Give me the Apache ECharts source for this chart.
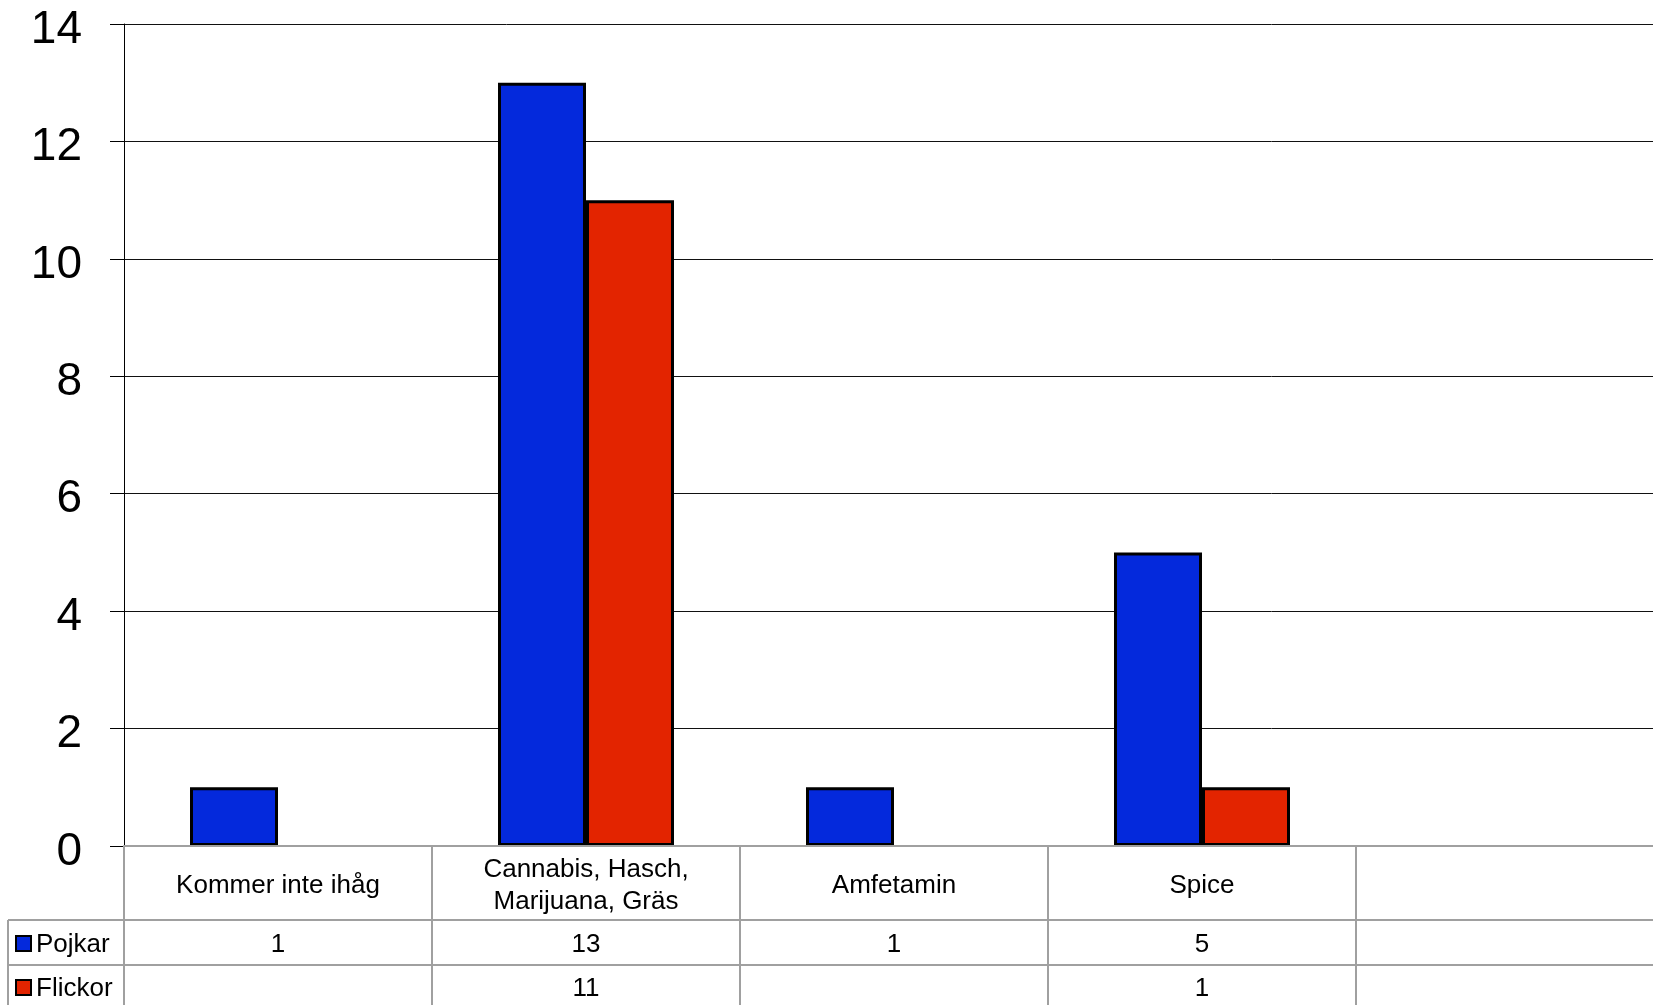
<!DOCTYPE html>
<html><head><meta charset="utf-8">
<script src="https://cdn.jsdelivr.net/npm/echarts@6/dist/echarts.min.js"></script>
<style>html,body{margin:0;padding:0;background:#fff}#c{width:1653px;height:1005px}</style>
</head><body><div id="c"></div>
<script>
var categories = ['Kommer inte ihåg', 'Cannabis, Hasch,\nMarijuana, Gräs', 'Amfetamin', 'Spice', ''];
var seriesNames = ['Pojkar', 'Flickor'];
var pojkar = [1, 13, 1, 5, null];
var flickor = [null, 11, null, 1, null];
var colors = ['#0429DC', '#E32400'];
var yTicks = [0, 2, 4, 6, 8, 10, 12, 14];

var chart = echarts.init(document.getElementById('c'), null, {renderer: 'canvas'});
var FONT = 'Liberation Sans, Arial, sans-serif';
var option = {
  animation: false,
  backgroundColor: '#fff',
  grid: {left: 124, top: 24, bottom: 159, width: 1540, containLabel: false, outerBoundsMode: 'none'},
  xAxis: {
    type: 'category', data: categories, z: 5,
    axisLine: {show: true, lineStyle: {color: '#a0a0a0', width: 2}},
    axisTick: {show: true, length: 159, lineStyle: {color: '#a0a0a0', width: 2}},
    axisLabel: {margin: 40, verticalAlign: 'middle', fontSize: 26, lineHeight: 32, color: '#000', fontFamily: FONT, interval: 0}
  },
  yAxis: {
    type: 'value', min: yTicks[0], max: yTicks[yTicks.length - 1], interval: 2,
    axisLine: {show: true, lineStyle: {color: '#000', width: 1}},
    axisTick: {show: true, length: 14, lineStyle: {color: '#000'}},
    axisLabel: {margin: 42, color: '#000',
      formatter: function (v) { return '{a|' + v + '}'; },
      rich: {a: {fontSize: 46, fontFamily: FONT, color: '#000', padding: [12, 0, 0, 0]}}},
    splitLine: {show: true, lineStyle: {color: '#111', width: 1}}
  },
  series: [
    {name: seriesNames[0], type: 'bar', data: pojkar, barWidth: 88, barGap: '0%',
     itemStyle: {color: colors[0], borderColor: '#000', borderWidth: 3}},
    {name: seriesNames[1], type: 'bar', data: flickor, barWidth: 88, barGap: '0%',
     itemStyle: {color: colors[1], borderColor: '#000', borderWidth: 3}}
  ]
};
chart.setOption(option);

// Data table below the axis
var rows = [pojkar, flickor];
var rowCenters = [945, 989];
var g = [];
var lineStyle = {stroke: '#a0a0a0', lineWidth: 2};
g.push({type: 'line', shape: {x1: 8, y1: 920, x2: 1660, y2: 920}, style: lineStyle, z: 10});
g.push({type: 'line', shape: {x1: 8, y1: 965, x2: 1660, y2: 965}, style: lineStyle, z: 10});
g.push({type: 'line', shape: {x1: 8, y1: 920, x2: 8, y2: 1010}, style: lineStyle, z: 10});
for (var r = 0; r < rows.length; r++) {
  var cy = rowCenters[r];
  g.push({type: 'rect', shape: {x: 16, y: cy - 9, width: 15, height: 15},
    style: {fill: colors[r], stroke: '#000', lineWidth: 2}, z: 10});
  g.push({type: 'text', x: 36, y: cy, style: {text: seriesNames[r], font: '26px ' + FONT, fill: '#000', textVerticalAlign: 'middle', verticalAlign: 'middle'}, z: 10});
  for (var i = 0; i < categories.length; i++) {
    var v = rows[r][i];
    if (v === null || v === undefined) continue;
    var px = chart.convertToPixel({xAxisIndex: 0}, i);
    g.push({type: 'text', x: px, y: cy, style: {text: String(v), font: '26px ' + FONT, fill: '#000', align: 'center', textAlign: 'center', verticalAlign: 'middle', textVerticalAlign: 'middle'}, z: 10});
  }
}
chart.setOption({graphic: g});
</script></body></html>
